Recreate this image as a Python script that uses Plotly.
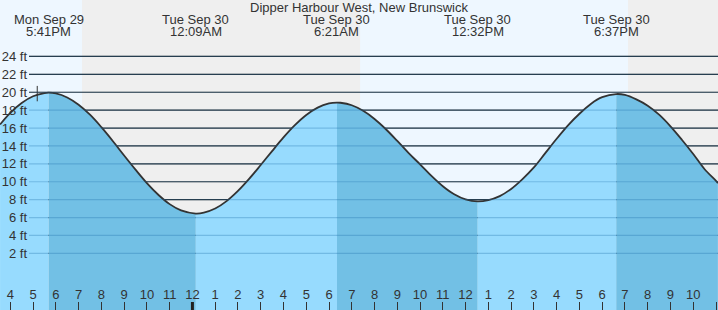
import plotly.graph_objects as go

# ---------------- data ----------------
TITLE = "Dipper Harbour West, New Brunswick"

CURVE_TIMES = [
    "2025-09-29 15:33", "2025-09-29 16:00", "2025-09-29 16:30", "2025-09-29 17:00",
    "2025-09-29 17:30", "2025-09-29 17:41", "2025-09-29 18:00", "2025-09-29 18:30",
    "2025-09-29 19:00", "2025-09-29 19:30", "2025-09-29 20:00", "2025-09-29 20:30",
    "2025-09-29 21:00", "2025-09-29 21:30", "2025-09-29 22:00", "2025-09-29 22:30",
    "2025-09-29 23:00", "2025-09-29 23:30", "2025-09-30 00:09", "2025-09-30 00:30",
    "2025-09-30 01:00", "2025-09-30 01:30", "2025-09-30 02:00", "2025-09-30 02:30",
    "2025-09-30 03:00", "2025-09-30 03:30", "2025-09-30 04:00", "2025-09-30 04:30",
    "2025-09-30 05:00", "2025-09-30 05:30", "2025-09-30 06:00", "2025-09-30 06:21",
    "2025-09-30 06:30", "2025-09-30 07:00", "2025-09-30 07:30", "2025-09-30 08:00",
    "2025-09-30 08:30", "2025-09-30 09:00", "2025-09-30 09:30", "2025-09-30 10:00",
    "2025-09-30 10:30", "2025-09-30 11:00", "2025-09-30 11:30", "2025-09-30 12:00",
    "2025-09-30 12:32", "2025-09-30 13:00", "2025-09-30 13:30", "2025-09-30 14:00",
    "2025-09-30 14:30", "2025-09-30 15:00", "2025-09-30 15:30", "2025-09-30 16:00",
    "2025-09-30 16:30", "2025-09-30 17:00", "2025-09-30 17:30", "2025-09-30 18:00",
    "2025-09-30 18:37", "2025-09-30 19:00", "2025-09-30 19:30", "2025-09-30 20:00",
    "2025-09-30 20:30", "2025-09-30 21:00", "2025-09-30 21:30", "2025-09-30 22:00",
    "2025-09-30 22:30", "2025-09-30 23:00", "2025-09-30 23:05",
]
CURVE_HEIGHTS = [
    16.4, 17.7, 18.8, 19.55,
    19.9, 19.95, 19.87, 19.42,
    18.61, 17.49, 16.1, 14.56,
    12.93, 11.35, 9.85, 8.55,
    7.5, 6.8, 6.45, 6.55,
    7.01, 7.84, 8.98, 10.35,
    11.87, 13.43, 14.95, 16.32,
    17.46, 18.29, 18.75, 18.85,
    18.83, 18.55, 17.93, 17.02,
    15.87, 14.56, 13.2, 11.95,
    10.65, 9.5, 8.6, 8.02,
    7.8, 7.95, 8.4, 9.2,
    10.3, 11.6, 13.2, 14.8,
    16.3, 17.6, 18.7, 19.45,
    19.8, 19.7, 19.2, 18.5,
    17.5, 16.2, 14.7, 13.1,
    11.4, 10.1, 9.85,
]

EXTREME_TIMES = ["2025-09-29 17:41", "2025-09-30 00:09", "2025-09-30 06:21",
                 "2025-09-30 12:32", "2025-09-30 18:37"]
EXTREME_DAYS = ["Mon Sep 29", "Tue Sep 30", "Tue Sep 30", "Tue Sep 30", "Tue Sep 30"]
EXTREME_LABELS = ["5:41PM", "12:09AM", "6:21AM", "12:32PM", "6:37PM"]

NIGHTS = [("2025-09-29 19:09", "2025-09-30 07:22"),
          ("2025-09-30 19:08", "2025-09-30 23:30")]

NOW_TIME = "2025-09-29 17:11"
NOW_HEIGHT = 19.85

DATE_CHANGE = "2025-09-30 00:00"

Y_TICKS = [2, 4, 6, 8, 10, 12, 14, 16, 18, 20, 22, 24]
Y_TICK_TEXT = ["2 ft", "4 ft", "6 ft", "8 ft", "10 ft", "12 ft", "14 ft", "16 ft",
               "18 ft", "20 ft", "22 ft", "24 ft"]
X_RANGE = ["2025-09-29 15:32:51", "2025-09-30 23:05:15"]
Y_RANGE = [-4.33, 30.31]

# ---------------- style ----------------
W, H = 718, 310
DAY_BG = "#eef7ff"
NIGHT_BG = "#efefef"
WATER_RISE = "#97dbfe"
WATER_FALL = "#72c0e5"
TEXT = "#333333"
FONT = "Liberation Sans, Arial, sans-serif"
GRID_X0 = 29 / W

fig = go.Figure()

# fill segments between extremes
idx = [0] + [CURVE_TIMES.index(t) for t in EXTREME_TIMES] + [len(CURVE_TIMES) - 1]
for a, b in zip(idx[:-1], idx[1:]):
    if a == b:
        continue
    xs = CURVE_TIMES[a:b + 1]
    ys = CURVE_HEIGHTS[a:b + 1]
    color = WATER_RISE if ys[-1] > ys[0] else WATER_FALL
    fig.add_trace(go.Scatter(x=[xs[0], xs[-1]], y=[Y_RANGE[0], Y_RANGE[0]],
                             mode="lines", line=dict(width=0), hoverinfo="skip",
                             showlegend=False))
    fig.add_trace(go.Scatter(x=xs, y=ys, mode="lines",
                             line=dict(width=0, shape="spline", smoothing=1),
                             fill="tonexty", fillcolor=color, hoverinfo="skip",
                             showlegend=False))

# tide curve
fig.add_trace(go.Scatter(x=CURVE_TIMES, y=CURVE_HEIGHTS, mode="lines",
                         line=dict(color="#333333", width=1.8, shape="spline", smoothing=1),
                         showlegend=False))

# now marker
fig.add_trace(go.Scatter(x=[NOW_TIME], y=[NOW_HEIGHT], mode="markers",
                         marker=dict(symbol="line-ns", size=11,
                                     line=dict(width=1, color="#333333")),
                         showlegend=False))

shapes = []
for n0, n1 in NIGHTS:
    shapes.append(dict(type="rect", xref="x", yref="paper", x0=n0, x1=n1, y0=0, y1=1,
                       fillcolor=NIGHT_BG, line=dict(width=0), layer="below"))
for v in Y_TICKS:
    shapes.append(dict(type="line", xref="paper", yref="y", x0=GRID_X0, x1=1, y0=v, y1=v,
                       line=dict(color="#2a2a2a", width=1.2), layer="below"))
for v in Y_TICKS:
    shapes.append(dict(type="line", xref="paper", yref="y", x0=GRID_X0, x1=1, y0=v, y1=v,
                       line=dict(color="rgba(30,110,170,0.3)", width=1.2), layer="above"))
shapes.append(dict(type="line", xref="x", yref="paper", x0=DATE_CHANGE, x1=DATE_CHANGE,
                   y0=0, y1=8 / H, line=dict(color="#222222", width=3), layer="above"))

annotations = [dict(text=TITLE, xref="paper", yref="paper", x=0.5, y=1 - 7.5 / H,
                    showarrow=False, yanchor="middle", borderpad=0, borderwidth=0,
                    font=dict(size=13, color=TEXT, family=FONT))]
for t, d, lab in zip(EXTREME_TIMES, EXTREME_DAYS, EXTREME_LABELS):
    annotations.append(dict(text=d, xref="x", yref="paper", x=t, y=1 - 20 / H,
                            showarrow=False, yanchor="middle", borderpad=0, borderwidth=0,
                            font=dict(size=13, color=TEXT, family=FONT)))
    annotations.append(dict(text=lab, xref="x", yref="paper", x=t, y=1 - 31.7 / H,
                            showarrow=False, yanchor="middle", borderpad=0, borderwidth=0,
                            font=dict(size=13, color=TEXT, family=FONT)))

fig.update_layout(
    width=W, height=H,
    margin=dict(l=0, r=0, t=0, b=0),
    paper_bgcolor="white",
    plot_bgcolor=DAY_BG,
    showlegend=False,
    shapes=shapes,
    annotations=annotations,
    font=dict(family=FONT, size=13, color=TEXT),
    xaxis=dict(type="date", range=X_RANGE, tickformat="%-I", dtick=3600000,
               tick0="2025-09-29 00:00", ticks="inside", ticklen=8, tickwidth=1,
               tickcolor="#333333", ticklabelposition="inside", showgrid=False,
               zeroline=False, showline=False, tickfont=dict(size=13, color=TEXT)),
    yaxis=dict(range=Y_RANGE, tickmode="array", tickvals=Y_TICKS, ticktext=Y_TICK_TEXT,
               anchor="free", position=GRID_X0, side="left", showgrid=False,
               zeroline=False, showline=False, ticks="", ticklabelstandoff=2,
               tickfont=dict(size=13, color=TEXT)),
)

fig.write_html("out.html")
